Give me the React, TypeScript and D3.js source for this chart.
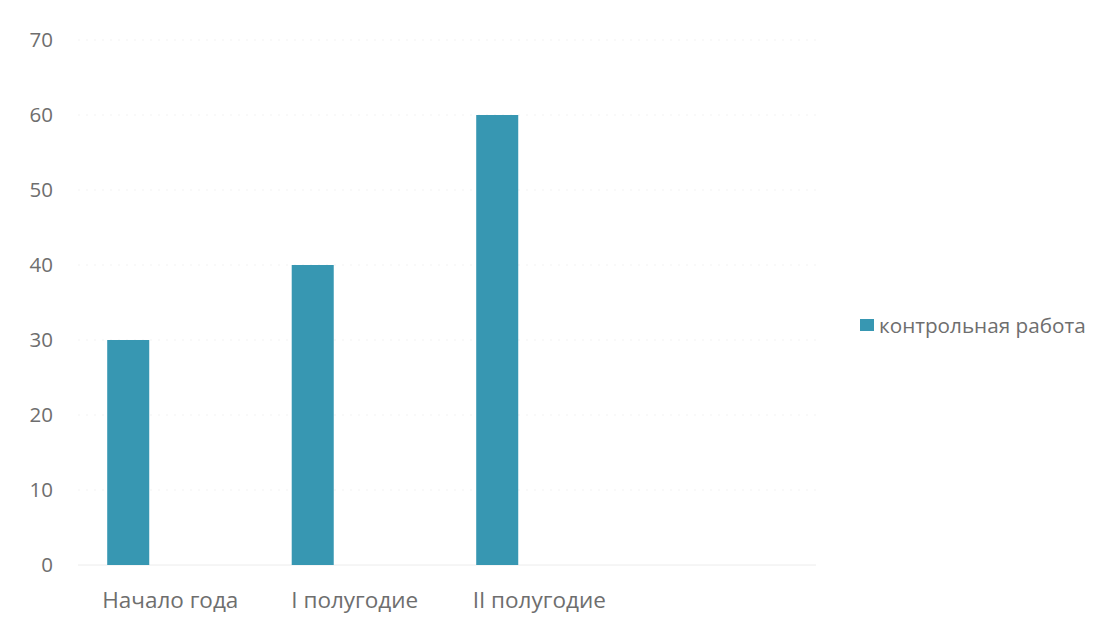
import React from "react";
import * as d3 from "d3";

const categories = ["Начало года", "I полугодие", "II полугодие"];
const seriesName = "контрольная работа";
const values = [30, 40, 60];
const yTicks = [0, 10, 20, 30, 40, 50, 60, 70];
const seriesSlots = ["s1", "s2", "s3"];

const W = 1106;
const H = 630;
const color = "#3797b2";
const textColor = "#6e6e6e";
const font = "'Open Sans', sans-serif";

export default function App() {
  const left = 78;
  const step = 184.5;
  const x0 = d3
    .scaleBand<string>()
    .domain(categories)
    .range([left, left + step * categories.length])
    .padding(0);
  const x1 = d3
    .scaleBand<string>()
    .domain(seriesSlots)
    .range([0, x0.bandwidth()])
    .paddingInner(0)
    .paddingOuter(0.695);
  const y = d3.scaleLinear().domain([0, 70]).range([565, 40]);
  const gridRight = left + step * 4;

  return (
    <svg
      width={W}
      height={H}
      style={{ position: "absolute", left: 0, top: 0, background: "#fff" }}
      fontFamily={font}
    >
      {yTicks.map((t) => (
        <g key={t}>
          <line
            x1={left}
            x2={gridRight}
            y1={y(t)}
            y2={y(t)}
            stroke={t === 0 ? "#ececec" : "#f3f3f3"}
            strokeWidth={1}
            strokeDasharray={t === 0 ? undefined : "2 6"}
          />
          <text
            x={53}
            y={y(t)}
            dy="0.36em"
            textAnchor="end"
            fontSize={20.5}
            fill={textColor}
          >
            {t}
          </text>
        </g>
      ))}
      {categories.map((c, i) => (
        <g key={c}>
          <rect
            x={(x0(c) as number) + (x1("s1") as number)}
            y={y(values[i])}
            width={x1.bandwidth()}
            height={y(0) - y(values[i])}
            fill={color}
          />
          <text
            x={(x0(c) as number) + x0.bandwidth() / 2}
            y={608}
            textAnchor="middle"
            fontSize={22.5}
            fill={textColor}
          >
            {c}
          </text>
        </g>
      ))}
      <rect x={860} y={319} width={14} height={12} fill={color} />
      <text x={879} y={333} fontSize={20.7} fill={textColor}>
        {seriesName}
      </text>
    </svg>
  );
}
